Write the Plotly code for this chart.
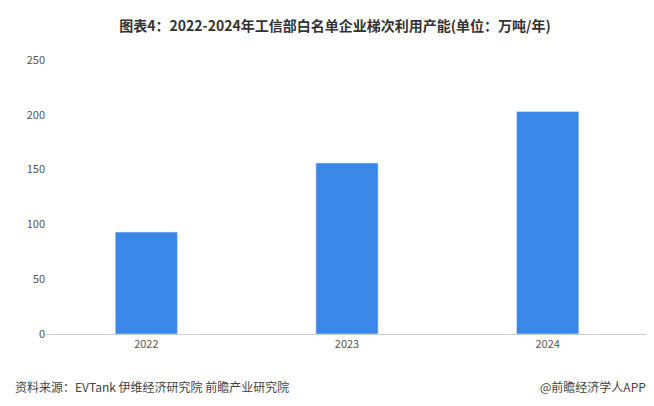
import plotly.graph_objects as go

years = ["2022", "2023", "2024"]
values = [93, 156, 203]

fig = go.Figure(go.Bar(x=years, y=values, marker_color="#3a87e8", width=0.31))
fig.update_layout(
    width=654, height=406, paper_bgcolor="white", plot_bgcolor="white",
    margin=dict(l=38, r=14, t=52, b=80),
    font=dict(family="Noto Sans CJK SC", size=11, color="#555"),
    title=dict(text="<b>图表4：2022-2024年工信部白名单企业梯次利用产能(单位：万吨/年)</b>",
               x=0.5, xanchor="center", y=0.955, yanchor="middle",
               font=dict(size=14, color="#333")),
    showlegend=False,
)
fig.update_yaxes(range=[0, 250], dtick=50, showgrid=False, zeroline=False,
                 showline=False, ticks="", tickfont=dict(color="#555"))
fig.update_xaxes(showline=True, linecolor="#cccccc", ticks="", tickfont=dict(color="#555"))
fig.add_annotation(text="资料来源：EVTank 伊维经济研究院 前瞻产业研究院", xref="paper", yref="paper",
                   x=-0.055, y=0, yshift=-52, xanchor="left", yanchor="middle", showarrow=False,
                   font=dict(size=12, color="#444"))
fig.add_annotation(text="@前瞻经济学人APP", xref="paper", yref="paper",
                   x=1.0, y=0, yshift=-52, xanchor="right", yanchor="middle", showarrow=False,
                   font=dict(size=12, color="#444"))
fig.write_html("out.html")
